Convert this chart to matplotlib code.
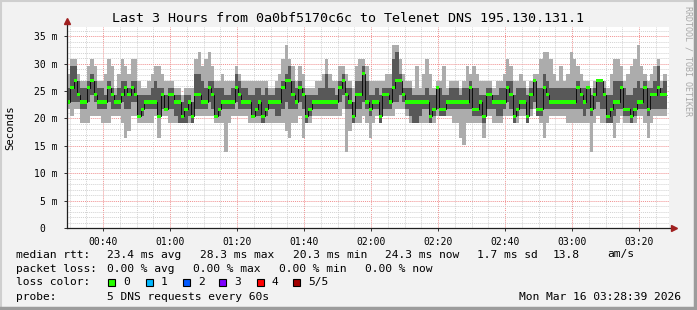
import numpy as np
import matplotlib.pyplot as plt
from matplotlib.patches import Rectangle
from matplotlib.ticker import MultipleLocator

W, H = 697, 310
plt.rcParams['font.family'] = 'DejaVu Sans Mono'

# one sample per minute, 5 DNS pings sorted low -> high, values in ms
ping1 = [21.7, 20.4, 21.7, 21.7, 19.1, 19.1, 19.1, 20.4, 20.4, 20.4,
         19.1, 19.1, 19.1, 20.4, 20.4, 20.4, 19.1, 16.5, 17.8, 20.4,
         20.4, 19.1, 19.1, 19.1, 19.1, 19.1, 20.4, 16.5, 20.4, 20.4,
         19.1, 19.1, 19.1, 19.1, 19.1, 19.1, 19.1, 19.1, 20.4, 20.4,
         20.4, 20.4, 20.4, 20.4, 19.1, 19.1, 19.1, 13.9, 19.1, 20.4,
         20.4, 20.4, 20.4, 20.4, 19.1, 19.1, 19.1, 19.1, 19.1, 19.1,
         19.1, 19.1, 19.1, 19.1, 19.1, 17.8, 16.5, 19.1, 19.1, 20.4,
         16.5, 19.1, 19.1, 20.4, 20.4, 20.4, 20.4, 20.4, 20.4, 20.4,
         20.4, 20.4, 21.7, 13.9, 17.8, 19.1, 19.1, 19.1, 20.4, 19.1,
         16.5, 19.1, 20.4, 19.1, 20.4, 20.4, 20.4, 20.4, 21.7, 21.7,
         21.7, 20.4, 19.1, 19.1, 19.1, 19.1, 19.1, 19.1, 19.1, 19.1,
         20.4, 20.4, 20.4, 20.4, 20.4, 19.1, 19.1, 16.5, 15.2, 19.1,
         19.1, 19.1, 19.1, 19.1, 16.5, 20.4, 20.4, 19.1, 19.1, 19.1,
         20.4, 20.4, 20.4, 19.1, 19.1, 20.4, 20.4, 19.1, 20.4, 21.7,
         20.4, 19.1, 16.5, 19.1, 20.4, 20.4, 20.4, 20.4, 20.4, 19.1,
         19.1, 19.1, 19.1, 19.1, 19.1, 19.1, 13.9, 19.1, 20.4, 19.1,
         19.1, 19.1, 19.1, 16.5, 19.1, 20.4, 19.1, 19.1, 19.1, 19.1,
         20.4, 20.4, 19.1, 16.5, 19.1, 20.4, 20.4, 20.4, 20.4]
ping2 = [23.0, 23.0, 23.0, 23.0, 21.7, 21.7, 23.0, 24.3, 23.0, 21.7,
         21.7, 21.7, 23.0, 21.7, 21.7, 21.7, 23.0, 21.7, 21.7, 23.0,
         23.0, 20.4, 20.4, 21.7, 21.7, 21.7, 21.7, 20.4, 21.7, 21.7,
         21.7, 21.7, 20.4, 19.1, 19.1, 19.1, 20.4, 19.1, 21.7, 21.7,
         21.7, 21.7, 23.0, 21.7, 20.4, 20.4, 21.7, 21.7, 21.7, 21.7,
         23.0, 21.7, 21.7, 21.7, 21.7, 20.4, 20.4, 20.4, 19.1, 20.4,
         21.7, 21.7, 20.4, 20.4, 21.7, 23.0, 21.7, 21.7, 21.7, 23.0,
         21.7, 19.1, 20.4, 21.7, 21.7, 21.7, 21.7, 21.7, 21.7, 21.7,
         21.7, 23.0, 24.3, 21.7, 21.7, 19.1, 21.7, 21.7, 23.0, 21.7,
         20.4, 21.7, 21.7, 19.1, 21.7, 21.7, 21.7, 23.0, 23.0, 24.3,
         23.0, 21.7, 20.4, 19.1, 19.1, 20.4, 21.7, 21.7, 19.1, 20.4,
         21.7, 20.4, 20.4, 21.7, 21.7, 21.7, 21.7, 21.7, 21.7, 21.7,
         21.7, 20.4, 20.4, 20.4, 19.1, 21.7, 21.7, 21.7, 20.4, 20.4,
         21.7, 23.0, 21.7, 19.1, 20.4, 21.7, 21.7, 19.1, 21.7, 23.0,
         20.4, 20.4, 21.7, 21.7, 21.7, 21.7, 21.7, 21.7, 21.7, 21.7,
         21.7, 21.7, 21.7, 21.7, 20.4, 21.7, 20.4, 21.7, 23.0, 21.7,
         21.7, 19.1, 19.1, 20.4, 21.7, 21.7, 20.4, 20.4, 19.1, 20.4,
         21.7, 21.7, 21.7, 20.4, 21.7, 21.7, 21.7, 21.7, 21.7]
median = [23.0, 25.6, 26.9, 24.3, 23.0, 23.0, 25.6, 26.9, 24.3, 23.0,
          23.0, 23.0, 25.6, 24.3, 23.0, 23.0, 24.3, 25.6, 24.3, 25.6,
          24.3, 20.4, 21.7, 23.0, 23.0, 23.0, 23.0, 20.4, 24.3, 21.7,
          24.3, 24.3, 23.0, 23.0, 20.4, 21.7, 23.0, 20.4, 24.3, 24.3,
          23.0, 23.0, 25.6, 24.3, 20.4, 21.7, 23.0, 23.0, 23.0, 23.0,
          25.6, 24.3, 23.0, 23.0, 23.0, 20.4, 21.7, 23.0, 20.4, 21.7,
          23.0, 23.0, 23.0, 23.0, 25.6, 26.9, 26.9, 24.3, 23.0, 25.6,
          24.3, 20.4, 21.7, 23.0, 23.0, 23.0, 23.0, 23.0, 23.0, 23.0,
          23.0, 25.6, 26.9, 24.3, 23.0, 20.4, 24.3, 24.3, 28.2, 23.0,
          21.7, 23.0, 23.0, 20.4, 24.3, 24.3, 23.0, 25.6, 26.9, 26.9,
          24.3, 23.0, 23.0, 23.0, 23.0, 23.0, 23.0, 23.0, 20.4, 21.7,
          25.6, 21.7, 21.7, 23.0, 23.0, 23.0, 23.0, 23.0, 23.0, 23.0,
          25.6, 21.7, 21.7, 23.0, 20.4, 24.3, 24.3, 23.0, 23.0, 23.0,
          23.0, 25.6, 24.3, 20.4, 21.7, 23.0, 23.0, 20.4, 24.3, 26.9,
          21.7, 21.7, 25.6, 24.3, 23.0, 23.0, 23.0, 23.0, 23.0, 23.0,
          23.0, 23.0, 25.6, 24.3, 23.0, 25.6, 21.7, 24.3, 26.9, 26.9,
          24.3, 20.4, 21.7, 23.0, 23.0, 25.6, 21.7, 21.7, 20.4, 21.7,
          23.0, 23.0, 25.6, 21.7, 24.3, 24.3, 25.6, 24.3, 24.3]
ping4 = [25.6, 29.5, 29.5, 26.9, 25.6, 25.6, 26.9, 28.2, 26.9, 25.6,
         25.6, 24.3, 26.9, 25.6, 24.3, 25.6, 26.9, 26.9, 25.6, 26.9,
         26.9, 24.3, 24.3, 24.3, 24.3, 25.6, 26.9, 25.6, 25.6, 24.3,
         25.6, 25.6, 24.3, 24.3, 23.0, 24.3, 24.3, 23.0, 28.2, 28.2,
         26.9, 25.6, 26.9, 26.9, 25.6, 25.6, 25.6, 24.3, 24.3, 25.6,
         28.2, 26.9, 25.6, 25.6, 24.3, 24.3, 25.6, 25.6, 24.3, 25.6,
         24.3, 24.3, 25.6, 25.6, 26.9, 28.2, 29.5, 26.9, 25.6, 26.9,
         25.6, 24.3, 24.3, 24.3, 24.3, 25.6, 25.6, 28.2, 25.6, 25.6,
         24.3, 26.9, 28.2, 25.6, 25.6, 23.0, 26.9, 26.9, 29.5, 26.9,
         24.3, 24.3, 25.6, 24.3, 25.6, 25.6, 25.6, 30.8, 32.1, 28.2,
         25.6, 25.6, 25.6, 24.3, 24.3, 24.3, 24.3, 25.6, 24.3, 24.3,
         25.6, 25.6, 24.3, 24.3, 25.6, 25.6, 25.6, 24.3, 25.6, 25.6,
         26.9, 25.6, 25.6, 24.3, 24.3, 25.6, 25.6, 24.3, 24.3, 25.6,
         25.6, 26.9, 26.9, 24.3, 25.6, 25.6, 25.6, 24.3, 25.6, 26.9,
         25.6, 25.6, 28.2, 26.9, 25.6, 25.6, 25.6, 25.6, 25.6, 25.6,
         25.6, 25.6, 26.9, 25.6, 25.6, 25.6, 24.3, 25.6, 26.9, 26.9,
         25.6, 24.3, 24.3, 26.9, 26.9, 26.9, 25.6, 24.3, 24.3, 25.6,
         26.9, 25.6, 26.9, 25.6, 25.6, 26.9, 29.5, 25.6, 26.9]
ping5 = [28.2, 30.8, 30.8, 28.2, 26.9, 26.9, 29.5, 30.8, 29.5, 26.9,
         26.9, 28.2, 30.8, 29.5, 25.6, 28.2, 30.8, 29.5, 28.2, 30.8,
         30.8, 26.9, 25.6, 25.6, 26.9, 28.2, 29.5, 29.5, 28.2, 26.9,
         26.9, 26.9, 25.6, 25.6, 24.3, 25.6, 25.6, 25.6, 30.8, 32.1,
         29.5, 30.8, 32.1, 29.5, 26.9, 26.9, 28.2, 26.9, 26.9, 26.9,
         29.5, 28.2, 26.9, 26.9, 26.9, 26.9, 26.9, 26.9, 26.9, 26.9,
         25.6, 25.6, 26.9, 28.2, 30.8, 33.4, 30.8, 29.5, 26.9, 29.5,
         28.2, 25.6, 25.6, 25.6, 26.9, 26.9, 28.2, 30.8, 28.2, 26.9,
         26.9, 29.5, 29.5, 28.2, 26.9, 25.6, 29.5, 30.8, 30.8, 29.5,
         26.9, 26.9, 26.9, 26.9, 26.9, 28.2, 28.2, 33.4, 33.4, 30.8,
         28.2, 26.9, 26.9, 25.6, 29.5, 25.6, 28.2, 30.8, 28.2, 25.6,
         26.9, 26.9, 29.5, 25.6, 26.9, 26.9, 26.9, 25.6, 26.9, 29.5,
         28.2, 29.5, 28.2, 26.9, 26.9, 26.9, 26.9, 25.6, 26.9, 26.9,
         28.2, 30.8, 29.5, 26.9, 26.9, 28.2, 26.9, 25.6, 26.9, 28.2,
         28.2, 30.8, 32.1, 32.1, 30.8, 28.2, 26.9, 29.5, 26.9, 28.2,
         32.1, 30.8, 29.5, 28.2, 26.9, 26.9, 25.6, 26.9, 26.9, 26.9,
         26.9, 25.6, 28.2, 30.8, 30.8, 29.5, 26.9, 28.2, 29.5, 30.8,
         33.4, 29.5, 28.2, 26.9, 28.2, 29.5, 30.8, 26.9, 28.2]

start_minute = 29.25          # 00:29:15, minutes after midnight
end_minute = 208.95           # 03:28:57
tick_minutes = [40, 60, 80, 100, 120, 140, 160, 180, 200]
tick_labels = ['00:40', '01:00', '01:20', '01:40', '02:00', '02:20', '02:40', '03:00', '03:20']
y_ticks = [0, 5, 10, 15, 20, 25, 30, 35]
y_labels = ['0  ', '5 m', '10 m', '15 m', '20 m', '25 m', '30 m', '35 m']

loss_labels = ['0', '1', '2', '3', '4', '5/5']
loss_colors = ['#26ff00', '#00b8ff', '#0059ff', '#7e00ff', '#ff0000', '#a10000']

edges = start_minute + np.arange(len(median) + 1)
p1, p2, p3, p4, p5 = (np.array(a) for a in (ping1, ping2, median, ping4, ping5))


def fx(x):
    return x / W


def fy(y):
    return 1 - y / H


fig = plt.figure(figsize=(W / 100, H / 100), dpi=100, facecolor='#f2f2f2')
ax = fig.add_axes([fx(67), fy(228), fx(669) - fx(67), fy(27) - fy(228)])
ax.set_facecolor('white')

# grid under the smoke
ax.set_axisbelow(True)
ax.xaxis.set_minor_locator(MultipleLocator(5))
ax.yaxis.set_minor_locator(MultipleLocator(1))
ax.grid(which='minor', color='#d2d2d2', linestyle=(0, (1, 1)), linewidth=0.7)
ax.grid(which='major', color='#f09090', linestyle=(0, (1, 1)), linewidth=0.7)

# smoke: outer pair light, inner pair dark
ax.stairs(p5, edges, baseline=p1, fill=True, color='#acacac', zorder=2)
ax.stairs(p4, edges, baseline=p2, fill=True, color='#585858', zorder=3)
ax.stairs(p3, edges, baseline=None, color='black', linewidth=0.6, zorder=4)
sw = 0.28
ax.stairs(p3 + sw, edges, baseline=p3 - sw, fill=True, color=loss_colors[0], zorder=5)

ax.set_xlim(start_minute, end_minute)
ax.set_ylim(0, 36.7)
ax.set_xticks(tick_minutes)
ax.set_xticklabels(tick_labels)
ax.set_yticks(y_ticks)
ax.set_yticklabels(y_labels)
ax.tick_params(which='major', length=2.5, width=0.7, color='#303030', labelsize=7, pad=4)
ax.tick_params(which='minor', length=0)
for s in ax.spines.values():
    s.set_visible(False)

# axis lines with arrows
ax.plot([0, 0], [0, 1.02], transform=ax.transAxes, color='#202020', lw=0.9, clip_on=False, zorder=7)
ax.plot([0, 1.006], [0, 0], transform=ax.transAxes, color='#202020', lw=0.9, clip_on=False, zorder=7)
ax.plot([0], [1.03], transform=ax.transAxes, marker='^', color='#a02020', ms=4, clip_on=False, zorder=8)
ax.plot([1.008], [0], transform=ax.transAxes, marker='>', color='#a02020', ms=4, clip_on=False, zorder=8)

fig.text(0.5, fy(19), 'Last 3 Hours from 0a0bf5170c6c to Telenet DNS 195.130.131.1',
         ha='center', va='center', fontsize=9.6, color='black')
fig.text(fx(10), fy(128), 'Seconds', rotation=90, ha='center', va='center', fontsize=7.7)
fig.text(fx(688), fy(6), 'RRDTOOL / TOBI OETIKER', rotation=-90, ha='center', va='top',
         fontsize=6, color='#a8a8a8')

fs = 8.1
rows = [
    (254.5, [(16, 'median rtt:'), (107, '23.4 ms avg'), (200, '28.3 ms max'), (293, '20.3 ms min'),
             (385, '24.3 ms now'), (477, '1.7 ms sd'), (553, '13.8'), (607, 'am/s')]),
    (268.5, [(16, 'packet loss:'), (107, '0.00 % avg'), (193, '0.00 % max'), (279, '0.00 % min'),
             (365, '0.00 % now')]),
    (296.5, [(16, 'probe:'), (107, '5 DNS requests every 60s')]),
]
for y, items in rows:
    for x, t in items:
        fig.text(fx(x), fy(y), t, ha='left', va='center', fontsize=fs)
fig.text(fx(681), fy(296.5), 'Mon Mar 16 03:28:39 2026', ha='right', va='center', fontsize=fs)

fig.text(fx(16), fy(282), 'loss color:', ha='left', va='center', fontsize=fs)
box_x = [108, 146, 183, 219, 257, 293]
for bx, lab, col in zip(box_x, loss_labels, loss_colors):
    fig.patches.append(Rectangle((fx(bx), fy(285.5)), 7 / W, 7 / H, transform=fig.transFigure,
                                 facecolor=col, edgecolor='black', linewidth=0.8))
    fig.text(fx(bx + 15), fy(282), lab, ha='left', va='center', fontsize=fs)

# 3d-ish frame: light top/left, darker bottom/right
fig.add_artist(plt.Line2D([0.001, 0.001], [0, 1], transform=fig.transFigure, color='#cfcfcf', lw=1.5))
fig.add_artist(plt.Line2D([0, 1], [0.998, 0.998], transform=fig.transFigure, color='#cfcfcf', lw=1.5))
fig.add_artist(plt.Line2D([0.997, 0.997], [0, 1], transform=fig.transFigure, color='#9c9c9c', lw=2.5))
fig.add_artist(plt.Line2D([0, 1], [0.005, 0.005], transform=fig.transFigure, color='#9c9c9c', lw=2.5))

fig.savefig('out.png', dpi=100, facecolor=fig.get_facecolor())
